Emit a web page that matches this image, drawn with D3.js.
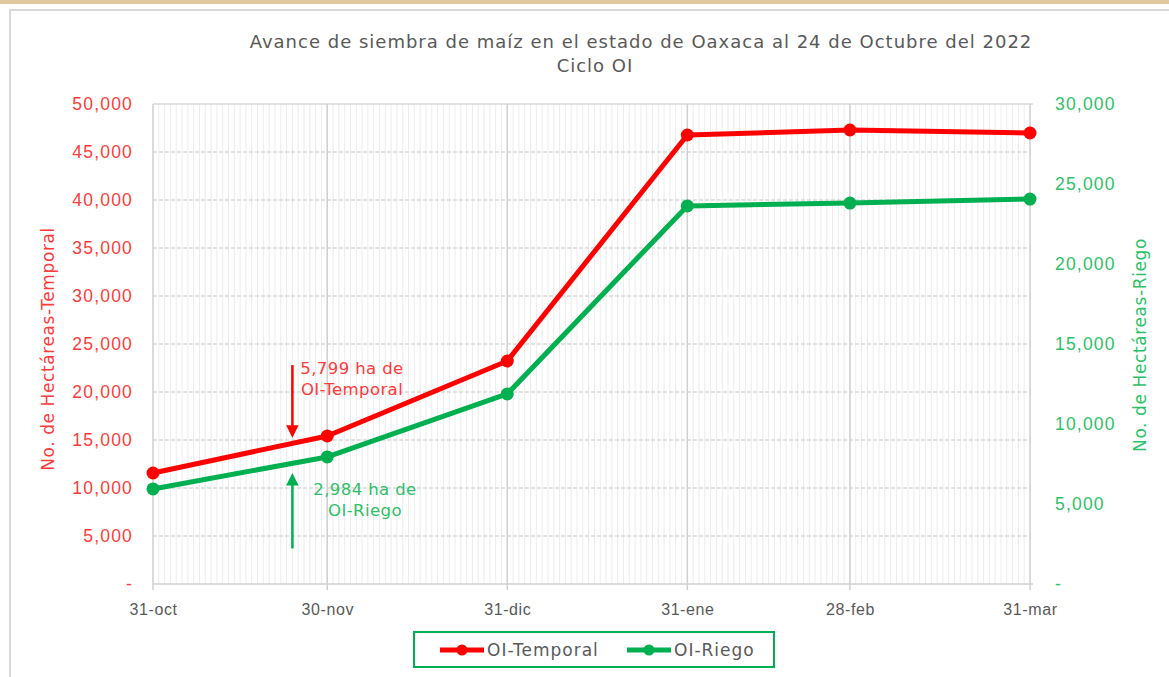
<!DOCTYPE html>
<html>
<head>
<meta charset="UTF-8">
<title>Avance de siembra de maíz Oaxaca</title>
<script src="https://cdn.jsdelivr.net/npm/d3@7"></script>
<style>
  body { margin: 0; background: #fff; }
  svg { display: block; font-family: "DejaVu Sans", "Open Sans", sans-serif; }
</style>
</head>
<body>
<svg id="chart" width="1169" height="677"></svg>
<script>
// fechas de corte
var fechas = ["2022-10-31", "2022-11-30", "2022-12-31", "2023-01-31", "2023-02-28", "2023-03-31"];
var etiquetasX = ["31-oct", "30-nov", "31-dic", "31-ene", "28-feb", "31-mar"];
// hectareas sembradas
var temporal = [11560, 15420, 23230, 46770, 47290, 46980];
var riego = [5940, 7940, 11880, 23630, 23810, 24060];
var ticksIzq = [0, 5000, 10000, 15000, 20000, 25000, 30000, 35000, 40000, 45000, 50000];
var ticksDer = [0, 5000, 10000, 15000, 20000, 25000, 30000];

var rojo = "#ff0000", verde = "#00b050";
var rojoTxt = "#ff3b3b", verdeTxt = "#2fbf68", gris = "#595959";

var svg = d3.select("#chart");
var parse = d3.timeParse("%Y-%m-%d");
var dates = fechas.map(parse);

// marco
svg.append("rect").attr("x", 0).attr("y", 0).attr("width", 1169).attr("height", 4).attr("fill", "#dfc8a0");
svg.append("path").attr("d", "M10,677V10H1169").attr("fill", "none").attr("stroke", "#d9d9d9").attr("stroke-width", 2);

var mLeft = 153, mRight = 1030, mTop = 104, mBottom = 584;
var x = d3.scaleTime().domain([dates[0], dates[dates.length - 1]]).range([mLeft, mRight]);
var yL = d3.scaleLinear().domain([0, 50000]).range([mBottom, mTop]);
var yR = d3.scaleLinear().domain([0, 30000]).range([mBottom, mTop]);

// rejilla diaria
var dias = d3.timeDay.range(dates[0], d3.timeDay.offset(dates[dates.length - 1], 1));
svg.append("g").selectAll("line").data(dias).enter().append("line")
  .attr("x1", d => x(d)).attr("x2", d => x(d))
  .attr("y1", mTop).attr("y2", mBottom)
  .attr("stroke", "#ececec").attr("stroke-width", 1);

// rejilla horizontal
svg.append("g").selectAll("line").data(ticksIzq.slice(1, -1)).enter().append("line")
  .attr("x1", mLeft).attr("x2", mRight)
  .attr("y1", d => yL(d)).attr("y2", d => yL(d))
  .attr("stroke", "#d9d9d9").attr("stroke-width", 1.5).attr("stroke-dasharray", "4,2");
svg.append("line").attr("x1", mLeft).attr("x2", mRight + 3).attr("y1", mTop).attr("y2", mTop)
  .attr("stroke", "#d9d9d9").attr("stroke-width", 1.5);

// rejilla de meses
svg.append("g").selectAll("line").data(dates).enter().append("line")
  .attr("x1", d => x(d)).attr("x2", d => x(d))
  .attr("y1", mTop).attr("y2", mBottom + 6)
  .attr("stroke", "#d0d0d0").attr("stroke-width", 1.5);
svg.append("line").attr("x1", mLeft).attr("x2", mRight + 3).attr("y1", mBottom).attr("y2", mBottom)
  .attr("stroke", "#d0d0d0").attr("stroke-width", 1.5);

// ejes
var axX = svg.append("g").attr("transform", "translate(0," + mBottom + ")")
  .call(d3.axisBottom(x).tickValues(dates).tickSize(0).tickPadding(20)
    .tickFormat((d, i) => etiquetasX[i]));
axX.select(".domain").remove();
axX.selectAll("text").attr("fill", gris).attr("font-size", 16).attr("letter-spacing", 0.6);

var fmt = d => d === 0 ? "-" : d3.format(",")(d);
var axL = svg.append("g").attr("transform", "translate(" + mLeft + ",0)")
  .call(d3.axisLeft(yL).tickValues(ticksIzq).tickSize(0).tickPadding(20).tickFormat(fmt));
axL.select(".domain").remove();
axL.selectAll("text").attr("fill", rojoTxt).attr("font-size", 17.5).attr("letter-spacing", 1.2);

var axR = svg.append("g").attr("transform", "translate(" + mRight + ",0)")
  .call(d3.axisRight(yR).tickValues(ticksDer).tickSize(0).tickPadding(25).tickFormat(fmt));
axR.select(".domain").remove();
axR.selectAll("text").attr("fill", verdeTxt).attr("font-size", 17.5).attr("letter-spacing", 1.2);

svg.append("text").attr("transform", "translate(54,349) rotate(-90)")
  .attr("text-anchor", "middle").attr("fill", rojoTxt).attr("font-size", 17).attr("letter-spacing", 0.6)
  .text("No. de Hectáreas-Temporal");
svg.append("text").attr("transform", "translate(1146,345) rotate(-90)")
  .attr("text-anchor", "middle").attr("fill", verdeTxt).attr("font-size", 17).attr("letter-spacing", 0.6)
  .text("No. de Hectáreas-Riego");

// titulo
svg.append("text").attr("x", 641).attr("y", 48).attr("text-anchor", "middle")
  .attr("fill", gris).attr("font-size", 18).attr("letter-spacing", 1)
  .text("Avance de siembra de maíz en el estado de  Oaxaca al 24 de Octubre del 2022");
svg.append("text").attr("x", 595).attr("y", 72).attr("text-anchor", "middle")
  .attr("fill", gris).attr("font-size", 18).attr("letter-spacing", 1).text("Ciclo OI");

// series
function serie(vals, y, color) {
  var pts = vals.map((v, i) => [dates[i], v]);
  svg.append("path").datum(pts)
    .attr("d", d3.line().x(d => x(d[0])).y(d => y(d[1])))
    .attr("fill", "none").attr("stroke", color).attr("stroke-width", 5)
    .attr("stroke-linejoin", "round");
  svg.append("g").selectAll("circle").data(pts).enter().append("circle")
    .attr("cx", d => x(d[0])).attr("cy", d => y(d[1])).attr("r", 6.5).attr("fill", color);
}
serie(temporal, yL, rojo);
serie(riego, yR, verde);

// anotaciones
var fechaFlecha = parse("2022-11-24");
var defs = svg.append("defs");
[["flechaR", rojo], ["flechaV", verde]].forEach(function (m) {
  defs.append("marker").attr("id", m[0]).attr("viewBox", "0 0 10 10")
    .attr("refX", 8).attr("refY", 5).attr("markerWidth", 5).attr("markerHeight", 5)
    .attr("orient", "auto")
    .append("path").attr("d", "M0,0L10,5L0,10z").attr("fill", m[1]);
});
svg.append("line").attr("x1", x(fechaFlecha)).attr("x2", x(fechaFlecha))
  .attr("y1", yL(22800)).attr("y2", yL(15500))
  .attr("stroke", rojo).attr("stroke-width", 2.5).attr("marker-end", "url(#flechaR)");
svg.append("line").attr("x1", x(fechaFlecha)).attr("x2", x(fechaFlecha))
  .attr("y1", yL(3700)).attr("y2", yL(11300))
  .attr("stroke", verde).attr("stroke-width", 2.5).attr("marker-end", "url(#flechaV)");

var notaT = svg.append("text").attr("text-anchor", "middle").attr("fill", rojoTxt)
  .attr("font-size", 16.5).attr("letter-spacing", 0.4);
notaT.append("tspan").attr("x", 352).attr("y", 374).text("5,799 ha de");
notaT.append("tspan").attr("x", 352).attr("y", 395).text("OI-Temporal");
var notaR = svg.append("text").attr("text-anchor", "middle").attr("fill", verdeTxt)
  .attr("font-size", 16.5).attr("letter-spacing", 0.4);
notaR.append("tspan").attr("x", 365).attr("y", 495).text("2,984 ha de");
notaR.append("tspan").attr("x", 365).attr("y", 516).text("OI-Riego");

// leyenda
var ley = svg.append("g");
ley.append("rect").attr("x", 414).attr("y", 632).attr("width", 360).attr("height", 35)
  .attr("fill", "#fff").attr("stroke", verde).attr("stroke-width", 2);
[["OI-Temporal", rojo, 440], ["OI-Riego", verde, 627]].forEach(function (l) {
  ley.append("line").attr("x1", l[2]).attr("x2", l[2] + 44).attr("y1", 650).attr("y2", 650)
    .attr("stroke", l[1]).attr("stroke-width", 5);
  ley.append("circle").attr("cx", l[2] + 22).attr("cy", 650).attr("r", 5.5).attr("fill", l[1]);
  ley.append("text").attr("x", l[2] + 47).attr("y", 656).attr("fill", gris)
    .attr("font-size", 17).attr("letter-spacing", 1).text(l[0]);
});
</script>
</body>
</html>
